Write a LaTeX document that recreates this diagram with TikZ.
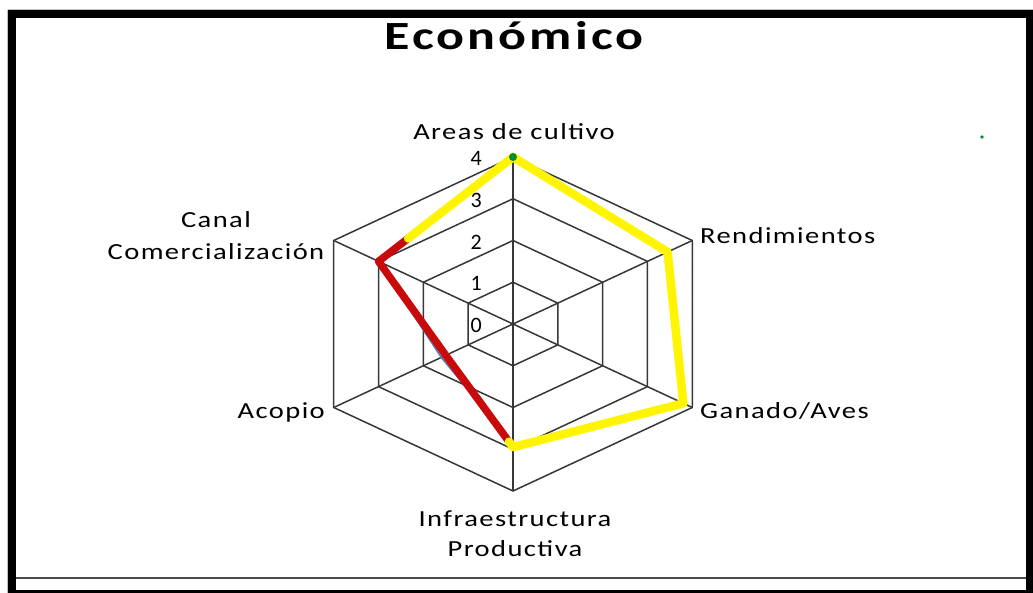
\documentclass[tikz,border=0pt]{standalone}
\usepackage{graphicx}
\usepackage{fontspec}
\usetikzlibrary{calc}
\setmainfont{Carlito}
\newfontfamily\lblfont[LetterSpace=5]{Carlito}
\newfontfamily\ttlfont[LetterSpace=6]{Carlito}
\newcommand\hstr[1]{\scalebox{1.24}[1]{#1}}
\definecolor{gridc}{RGB}{55,55,55}
\definecolor{serY}{RGB}{255,245,0}
\definecolor{serR}{RGB}{200,10,10}
\definecolor{serB}{RGB}{79,129,189}
\definecolor{serG}{RGB}{0,140,50}
\tikzset{
  gridline/.style={draw=gridc, line width=1.5pt},
  lbl/.style={font=\lblfont\fontsize{23}{27}\selectfont, inner sep=0pt, text=black, anchor=base},
  numlbl/.style={font=\fontsize{22}{26}\selectfont, inner sep=0pt, anchor=east},
  ttl/.style={font=\ttlfont\bfseries\fontsize{40}{44}\selectfont, inner sep=0pt, anchor=base},
  serieY/.style={draw=serY, line width=8.5pt, line join=round, line cap=round},
  serieR/.style={draw=serR, line width=7.5pt, line join=round, line cap=round},
  serieB/.style={draw=serB, line width=1.6pt, line join=round},
}
\begin{document}
\begin{tikzpicture}[x=1pt,y=-1pt]
\useasboundingbox (0,0) rectangle (1033,593);
\fill[white] (0,0) rectangle (1033,593);
% frame
\coordinate (fA) at (11.75,14.25);
\coordinate (fB) at (1029.25,594);
\draw[black!25, line width=1pt] (7.5,10) -- (7.5,593);
\draw[black!25, line width=1pt] (7.5,10) -- (1033,10);
\draw[black, line width=7.5pt] (fA) rectangle (fB);
\coordinate (bl) at (15.5,577.5);
\coordinate (br) at (1025.5,577.5);
\draw[black!70, line width=2pt] (bl) -- (br);
% title
\node[ttl] (title) at (514,50) {\scalebox{1.3}[1]{Económico}};
% chart
\begin{scope}[shift={(513,324)}, x=51.75pt, y=41.75pt]
  \coordinate (C) at (0,0);
  \foreach \r in {1,2,3,4}{
    \draw[gridline] (90:\r) -- (30:\r) -- (-30:\r) -- (-90:\r) -- (-150:\r) -- (150:\r) -- cycle;
  }
  \foreach \a in {90,30,-30,-90,-150,150}{
    \coordinate (ax\a) at (\a:4);
    \draw[gridline] (C) -- (ax\a);
  }
  % data points
  \coordinate (Y0) at (90:4);
  \coordinate (Y1) at (30:3.45);
  \coordinate (Y2) at (-30:3.8);
  \coordinate (Y3) at (-90:2.95);
  \coordinate (R5) at (150:3);
  \coordinate (R4) at (-150:1.5);
  \coordinate (B4) at (-150:1.6);
  \coordinate (B3) at (-90:2.88);
  \coordinate (B2) at (-30:3.78);
  \coordinate (YS) at ($(R5)!0.22!(Y0)$);
  \coordinate (Yend) at ($(Y3)!0.06!(R4)$);
  \coordinate (Rend) at ($(R4)!0.92!(Y3)$);
  \draw[serieB] (R5) -- (B4) -- (B3) -- (B2);
  \draw[serieR] (YS) -- (R5) -- (R4) -- (Rend);
  \draw[serieY] (YS) -- (Y0) -- (Y1) -- (Y2) -- (Y3) -- (Yend);
  \fill[serG] (Y0) circle (4pt and 4pt);
\end{scope}
\coordinate (gdot) at (982,137);
\fill[serG] (gdot) circle (1.8pt and -1.8pt);
% axis values
\node[numlbl] (n4) at (482,158) {4};
\node[numlbl] (n3) at (482,200) {3};
\node[numlbl] (n2) at (482,242) {2};
\node[numlbl] (n1) at (482,283) {1};
\node[numlbl] (n0) at (482,325) {0};
% category labels
\node[lbl] (areas) at (514,140) {\hstr{Areas de cultivo}};
\node[lbl, anchor=base west] (rend) at (700,244) {\hstr{Rendimientos}};
\node[lbl, anchor=base west] (gan) at (700,418) {\hstr{Ganado/Aves}};
\node[lbl] (infra1) at (515,526) {\hstr{Infraestructura}};
\node[lbl] (infra2) at (515,556) {\hstr{Productiva}};
\node[lbl, anchor=base east] (acopio) at (325,418) {\hstr{Acopio}};
\node[lbl] (canal1) at (216,228) {\hstr{Canal}};
\node[lbl] (canal2) at (216,260) {\hstr{Comercialización}};
\end{tikzpicture}
\end{document}
